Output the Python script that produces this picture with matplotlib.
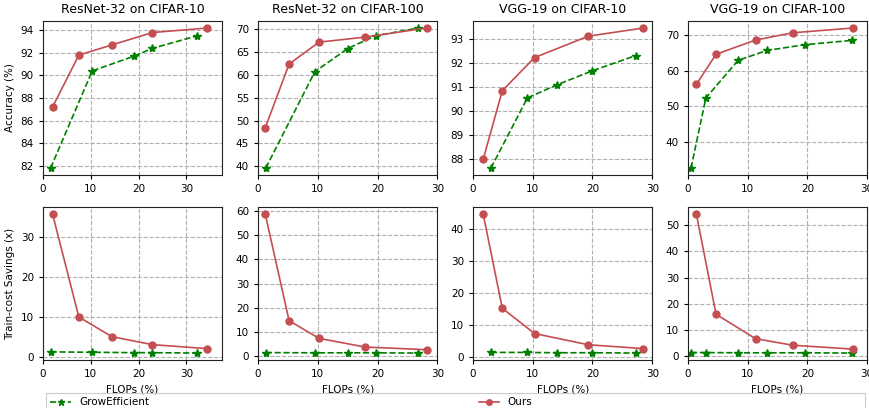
import numpy as np
import matplotlib.pyplot as plt
from matplotlib.patches import Rectangle

titles = ["ResNet-32 on CIFAR-10", "ResNet-32 on CIFAR-100",
          "VGG-19 on CIFAR-10", "VGG-19 on CIFAR-100"]

# FLOPs (%) for each method per panel
ours_flops = [
    [2.0, 7.5, 14.4, 22.9, 34.4],
    [1.2, 5.2, 10.2, 17.9, 28.2],
    [1.7, 4.9, 10.3, 19.3, 28.5],
    [1.4, 4.7, 11.3, 17.5, 27.6],
]
grow_flops = [
    [1.6, 10.3, 19.0, 22.9, 32.2],
    [1.3, 9.5, 15.0, 19.7, 26.8],
    [3.0, 9.1, 14.0, 20.0, 27.2],
    [0.5, 3.0, 8.4, 13.3, 19.6, 27.4],
]

# accuracy (%)
ours_acc = [
    [87.2, 91.8, 92.7, 93.8, 94.2],
    [48.4, 62.4, 67.2, 68.3, 70.3],
    [87.97, 90.83, 92.21, 93.10, 93.44],
    [56.2, 64.7, 68.7, 70.75, 72.1],
]
grow_acc = [
    [81.8, 90.4, 91.7, 92.4, 93.5],
    [39.6, 60.7, 65.8, 68.6, 70.3],
    [87.61, 90.53, 91.07, 91.66, 92.29],
    [32.6, 52.4, 63.0, 65.8, 67.4, 68.6],
]

# train-cost savings (x)
ours_save = [
    [35.8, 10.1, 5.2, 3.2, 2.2],
    [58.8, 14.6, 7.3, 3.7, 2.6],
    [44.7, 15.2, 7.3, 3.8, 2.6],
    [54.3, 16.0, 6.7, 4.2, 2.7],
]
grow_save = [
    [1.4, 1.3, 1.2, 1.2, 1.1],
    [1.4, 1.3, 1.3, 1.3, 1.2],
    [1.4, 1.4, 1.3, 1.3, 1.2],
    [1.4, 1.4, 1.3, 1.3, 1.3, 1.2],
]

acc_ticks = [
    [82, 84, 86, 88, 90, 92, 94],
    [40, 45, 50, 55, 60, 65, 70],
    [88, 89, 90, 91, 92, 93],
    [40, 50, 60, 70],
]
save_ticks = [
    [0, 10, 20, 30],
    [0, 10, 20, 30, 40, 50, 60],
    [0, 10, 20, 30, 40],
    [0, 10, 20, 30, 40, 50],
]

xlims = [(0, 37.5), (0, 30), (0, 30), (0, 30)]

red = "#c44e52"
green = "green"
fs = 7.5

plt.rcParams['font.family'] = ['DejaVu Sans']
fig = plt.figure(figsize=(8.7, 4.08), dpi=100)

lefts = [0.0494, 0.2966, 0.5437, 0.7908]
w = 0.206
top_row = (0.571, 0.9485 - 0.571)
bot_row = (0.1176, 0.4926 - 0.1176)


def style(ax, xl):
    ax.set_xlim(*xl)
    ax.set_xticks([0, 10, 20, 30])
    ax.grid(True, linestyle='--', color='#b0b0b0', linewidth=0.8)
    ax.tick_params(labelsize=fs, length=3)
    for s in ax.spines.values():
        s.set_color('#222222')


for i in range(4):
    ax = fig.add_axes([lefts[i], top_row[0], w, top_row[1]])
    ax.plot(grow_flops[i], grow_acc[i], '--*', color=green, markersize=6, linewidth=1.2, label='GrowEfficient')
    ax.plot(ours_flops[i], ours_acc[i], '-o', color=red, markersize=5, linewidth=1.2, label='Ours')
    style(ax, xlims[i])
    ax.set_yticks(acc_ticks[i])
    ax.set_title(titles[i], fontsize=9)
    if i == 0:
        ax.set_ylabel("Accuracy (%)", fontsize=fs)
        handles, labels = ax.get_legend_handles_labels()

    bx = fig.add_axes([lefts[i], bot_row[0], w, bot_row[1]])
    bx.plot(grow_flops[i], grow_save[i], '--*', color=green, markersize=6, linewidth=1.2)
    bx.plot(ours_flops[i], ours_save[i], '-o', color=red, markersize=5, linewidth=1.2)
    style(bx, xlims[i])
    bx.set_yticks(save_ticks[i])
    bx.set_xlabel("FLOPs (%)", fontsize=fs)
    if i == 0:
        bx.set_ylabel("Train-cost Savings (x)", fontsize=fs)

# legend across the bottom, frame drawn separately so it spans the width
fig.legend(handles, labels, loc='upper left', bbox_to_anchor=(0.0529, 0.0368),
           borderaxespad=0, ncol=2, columnspacing=31.6, fontsize=fs,
           frameon=False, markerscale=0.8)
fig.patches.append(Rectangle((0.0529, -0.05), 0.941, 0.0868, transform=fig.transFigure,
                             fill=False, edgecolor='#cccccc', linewidth=0.8))

fig.savefig("out.png", dpi=100)
